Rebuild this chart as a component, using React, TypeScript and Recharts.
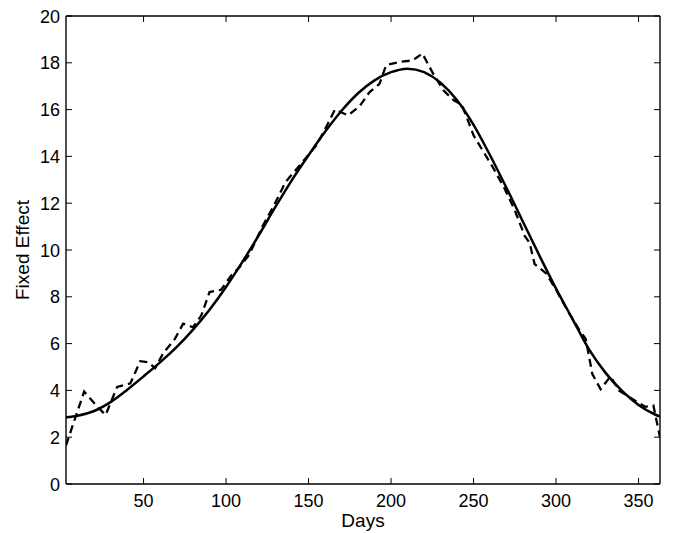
import { LineChart, Line, XAxis, YAxis, Label } from 'recharts'

// Smooth fitted curve (solid)
const fitDays = [3, 10, 20, 30, 40, 50, 60, 70, 80, 90, 100, 110, 120, 130, 140, 150, 160, 170, 180, 190, 200, 210, 220, 230, 240, 250, 260, 270, 280, 290, 300, 310, 320, 330, 340, 350, 360, 363]
const fitValues = [2.85, 2.92, 3.12, 3.5, 4.02, 4.6, 5.2, 5.85, 6.6, 7.45, 8.42, 9.5, 10.65, 11.85, 13.0, 14.05, 15.05, 15.95, 16.7, 17.25, 17.6, 17.75, 17.6, 17.15, 16.4, 15.35, 14.05, 12.65, 11.2, 9.75, 8.35, 7.05, 5.75, 4.75, 3.98, 3.38, 2.97, 2.88]

// Raw estimates (dashed)
const rawDays = [3, 14, 22, 27, 34, 42, 48, 53, 57, 62, 69, 74, 80, 85, 90, 97, 103, 108, 114, 122, 129, 136, 142, 148, 155, 161, 166, 174, 181, 187, 193, 197, 206, 213, 219, 225, 232, 238, 243, 250, 256, 262, 269, 275, 281, 284, 287, 294, 300, 307, 314, 318, 322, 327, 333, 338, 347, 354, 359, 363]
const rawValues = [1.65, 3.95, 3.3, 2.95, 4.15, 4.3, 5.25, 5.2, 4.95, 5.6, 6.2, 6.85, 6.7, 7.2, 8.2, 8.3, 8.9, 9.25, 9.8, 11.0, 11.9, 12.9, 13.4, 13.9, 14.5, 15.3, 16.0, 15.75, 16.15, 16.75, 17.1, 17.9, 18.05, 18.1, 18.4, 17.6, 16.8, 16.4, 16.2, 14.9, 14.2, 13.5, 12.6, 11.7, 10.6, 10.3, 9.4, 9.0, 8.3, 7.4, 6.6, 6.2, 4.7, 4.05, 4.6, 4.0, 3.6, 3.3, 3.35, 2.0]

const xTicks = [50, 100, 150, 200, 250, 300, 350]
const yTicks = [0, 2, 4, 6, 8, 10, 12, 14, 16, 18, 20]

const fitData = fitDays.map((d, i) => ({ day: d, value: fitValues[i] }))
const rawData = rawDays.map((d, i) => ({ day: d, value: rawValues[i] }))

const FONT = '"Liberation Sans", Arial, Helvetica, sans-serif'
const TICK_LEN = 6

function BottomTick({ x, y, payload }: any) {
  return (
    <g>
      <line x1={x} y1={y} x2={x} y2={y - TICK_LEN} stroke="#000" strokeWidth={1} />
      <text x={x} y={y + 23} textAnchor="middle" fontSize={18} fontFamily={FONT} fill="#000">
        {payload.value}
      </text>
    </g>
  )
}

function TopTick({ x, y }: any) {
  return <line x1={x} y1={y} x2={x} y2={y + TICK_LEN} stroke="#000" strokeWidth={1} />
}

function LeftTick({ x, y, payload }: any) {
  return (
    <g>
      <line x1={x} y1={y} x2={x + TICK_LEN} y2={y} stroke="#000" strokeWidth={1} />
      <text x={x - 6} y={y + 6.5} textAnchor="end" fontSize={18} fontFamily={FONT} fill="#000">
        {payload.value}
      </text>
    </g>
  )
}

function RightTick({ x, y }: any) {
  return <line x1={x} y1={y} x2={x - TICK_LEN} y2={y} stroke="#000" strokeWidth={1} />
}

export default function App() {
  return (
    <div style={{ position: 'absolute', left: 0, top: 0, background: '#fff' }}>
      <LineChart width={673} height={533} margin={{ top: 15, right: 12, bottom: 0, left: 0 }}>
        <XAxis
          xAxisId="b"
          dataKey="day"
          type="number"
          domain={[3, 363]}
          ticks={xTicks}
          height={49}
          tickSize={0}
          tickMargin={0}
          tickLine={false}
          tick={<BottomTick />}
          axisLine={{ stroke: '#000', strokeWidth: 1.4 }}
          allowDataOverflow
        >
          <Label
            content={({ viewBox }: any) => (
              <text
                x={viewBox.x + viewBox.width / 2}
                y={viewBox.y + 43}
                textAnchor="middle"
                fontSize={19}
                fontFamily={FONT}
                fill="#000"
              >
                Days
              </text>
            )}
          />
        </XAxis>
        <XAxis
          xAxisId="t"
          orientation="top"
          dataKey="day"
          type="number"
          domain={[3, 363]}
          ticks={xTicks}
          height={1}
          tickSize={0}
          tickMargin={0}
          tickLine={false}
          tick={<TopTick />}
          axisLine={{ stroke: '#000', strokeWidth: 1.4 }}
          allowDataOverflow
        />
        <YAxis
          yAxisId="l"
          type="number"
          domain={[0, 20]}
          ticks={yTicks}
          width={66}
          tickSize={0}
          tickMargin={0}
          tickLine={false}
          tick={<LeftTick />}
          axisLine={{ stroke: '#000', strokeWidth: 1.4 }}
          allowDataOverflow
        >
          <Label
            content={({ viewBox }: any) => {
              const cx = viewBox.x + 29
              const cy = viewBox.y + viewBox.height / 2
              return (
                <text
                  x={cx}
                  y={cy}
                  transform={`rotate(-90, ${cx}, ${cy})`}
                  textAnchor="middle"
                  fontSize={19}
                  fontFamily={FONT}
                  fill="#000"
                >
                  Fixed Effect
                </text>
              )
            }}
          />
        </YAxis>
        <YAxis
          yAxisId="r"
          orientation="right"
          type="number"
          domain={[0, 20]}
          ticks={yTicks}
          width={1}
          tickSize={0}
          tickMargin={0}
          tickLine={false}
          tick={<RightTick />}
          axisLine={{ stroke: '#000', strokeWidth: 1.4 }}
          allowDataOverflow
        />
        {/* invisible series so the top / right box axes get drawn */}
        <Line
          xAxisId="t"
          yAxisId="r"
          data={fitData}
          dataKey="value"
          stroke="none"
          dot={false}
          activeDot={false}
          isAnimationActive={false}
        />
        <Line
          xAxisId="b"
          yAxisId="l"
          data={rawData}
          dataKey="value"
          type="linear"
          stroke="#000"
          strokeWidth={2.3}
          strokeDasharray="8 5"
          dot={false}
          activeDot={false}
          isAnimationActive={false}
        />
        <Line
          xAxisId="b"
          yAxisId="l"
          data={fitData}
          dataKey="value"
          type="monotone"
          stroke="#000"
          strokeWidth={2.5}
          dot={false}
          activeDot={false}
          isAnimationActive={false}
        />
      </LineChart>
    </div>
  )
}
